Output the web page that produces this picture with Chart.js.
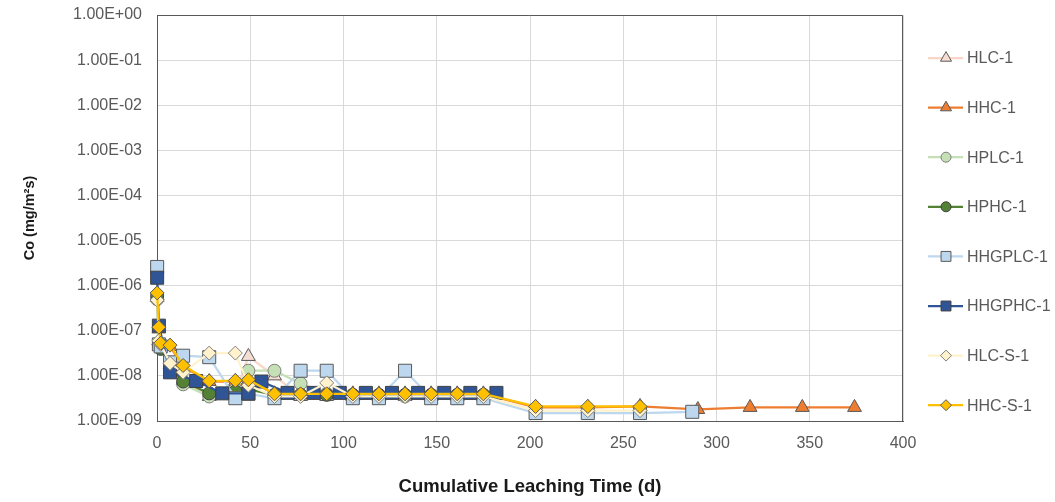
<!DOCTYPE html>
<html>
<head>
<meta charset="utf-8">
<title>Co leaching</title>
<script src="https://cdn.jsdelivr.net/npm/chart.js@4"></script>
<style>
  body { margin: 0; background: #fff; }
  #wrap { width: 1055px; height: 502px; position: relative; }
</style>
</head>
<body>
<div id="wrap"><canvas id="co-chart"></canvas></div>
<script>
// time points (d)
const tStd = [0.08, 1, 2, 7, 14, 28, 42, 49, 63, 77, 91, 105, 119, 133, 147, 161, 175];
const tStdLong = tStd.concat([203, 231, 259, 287]);
const tStdS = tStd.concat([203, 231, 259]);
const tHHC = tStd.concat([203, 231, 259, 290, 318, 346, 374]);
const tHHGPHC = [0.08, 1, 7, 21, 35, 49, 56, 70, 84, 98, 112, 126, 140, 154, 168, 182];

// Co release (mg/m2s)
const hlc1 = [5.5e-7, 6e-8, 4.5e-8, 1.8e-8, 8e-9, 3.5e-9, 4e-9, 2.7e-8, 1e-8, 3.5e-9, 3.5e-9, 3.5e-9, 3.5e-9, 3.5e-9, 3.5e-9, 3.5e-9, 3.5e-9];
const hhc1 = [6e-7, 1.1e-7, 5e-8, 4.5e-8, 1.6e-8, 7.5e-9, 7.5e-9, 8e-9, 4e-9, 4e-9, 4e-9, 4e-9, 4e-9, 4e-9, 4e-9, 4e-9, 4e-9, 2e-9, 2e-9, 2.1e-9, 1.8e-9, 2e-9, 2e-9, 2e-9];
const hplc1 = [5e-7, 5e-8, 4e-8, 1.8e-8, 6.5e-9, 3.5e-9, 5e-9, 1.3e-8, 1.3e-8, 6.8e-9, 4e-9, 3.5e-9, 3.5e-9, 3.5e-9, 3.5e-9, 3.5e-9, 3.5e-9];
const hphc1 = [6e-7, 5e-8, 4e-8, 1.5e-8, 7.5e-9, 4.1e-9, 4.5e-9, 5e-9, 3.8e-9, 3.8e-9, 3.8e-9, 3.8e-9, 3.8e-9, 3.8e-9, 3.8e-9, 3.8e-9, 3.8e-9];
const hhgplc1 = [2.6e-6, 5e-8, 4.5e-8, 2e-8, 2.8e-8, 2.6e-8, 3.2e-9, 4e-9, 3.2e-9, 1.3e-8, 1.3e-8, 3.2e-9, 3.2e-9, 1.3e-8, 3.2e-9, 3.2e-9, 3.2e-9, 1.5e-9, 1.5e-9, 1.5e-9, 1.6e-9];
const hhgphc1 = [1.5e-6, 1.3e-7, 1.2e-8, 7.7e-9, 4.1e-9, 4.1e-9, 7.5e-9, 4.2e-9, 4.2e-9, 4.2e-9, 4.2e-9, 4.2e-9, 4.2e-9, 4.2e-9, 4.2e-9, 4.2e-9];
const hlcs1 = [4.8e-7, 6e-8, 5e-8, 1.9e-8, 1.2e-8, 3.2e-8, 3.2e-8, 6.2e-9, 3.5e-9, 3.5e-9, 7e-9, 3.5e-9, 3.5e-9, 3.5e-9, 3.5e-9, 3.5e-9, 3.5e-9, 1.7e-9, 1.7e-9, 1.7e-9];
const hhcs1 = [6.9e-7, 1.2e-7, 5.3e-8, 4.8e-8, 1.7e-8, 7.7e-9, 7.9e-9, 8.2e-9, 4e-9, 4e-9, 4e-9, 4e-9, 4e-9, 4e-9, 4e-9, 4e-9, 4e-9, 2.1e-9, 2.1e-9, 2.1e-9];

const yTicks = [1e0, 1e-1, 1e-2, 1e-3, 1e-4, 1e-5, 1e-6, 1e-7, 1e-8, 1e-9];
const yTickLabels = ["1.00E+00", "1.00E-01", "1.00E-02", "1.00E-03", "1.00E-04", "1.00E-05", "1.00E-06", "1.00E-07", "1.00E-08", "1.00E-09"];

const pts = (xs, ys) => ys.map((y, i) => ({ x: xs[i], y: y }));

function series(label, xs, ys, line, fill, edge, shape, r) {
  return {
    label: label,
    data: pts(xs, ys),
    showLine: true,
    borderColor: line,
    borderWidth: 2.25,
    pointStyle: shape,
    pointRadius: r,
    pointBackgroundColor: fill,
    pointBorderColor: edge,
    pointBorderWidth: 1,
    clip: false,
  };
}

const datasets = [
  series("HLC-1", tStd, hlc1, "#f8d5c4", "#f6ddd3", "#595959", "triangle", 8),
  series("HHC-1", tHHC, hhc1, "#ed7d31", "#ed7d31", "#595959", "triangle", 8),
  series("HPLC-1", tStd, hplc1, "#c5e0b4", "#c5e0b4", "#7f7f7f", "circle", 6.5),
  series("HPHC-1", tStd, hphc1, "#548235", "#548235", "#404040", "circle", 6.5),
  series("HHGPLC-1", tStdLong, hhgplc1, "#bdd7ee", "#bdd7ee", "#595959", "rect", 9.2),
  series("HHGPHC-1", tHHGPHC, hhgphc1, "#2f5597", "#2f5597", "#404040", "rect", 9.2),
  series("HLC-S-1", tStdS, hlcs1, "#fff2cc", "#fff2cc", "#7f7f7f", "rectRot", 7),
  series("HHC-S-1", tStdS, hhcs1, "#ffc000", "#ffc000", "#595959", "rectRot", 7),
];
// later series sit on top, as in the original
datasets.forEach((ds, i) => { ds.order = datasets.length - i; });

const legendSize = { triangle: 6.4, circle: 5, rect: 7, rectRot: 5.5 };

const frame = {
  id: "frame",
  beforeDatasetsDraw(chart) {
    const a = chart.chartArea;
    const ctx = chart.ctx;
    ctx.save();
    ctx.strokeStyle = "#595959";
    ctx.lineWidth = 1;
    ctx.beginPath();
    ctx.moveTo(a.left, a.top + 0.5);
    ctx.lineTo(a.right - 0.5, a.top + 0.5);
    ctx.lineTo(a.right - 0.5, a.bottom);
    ctx.stroke();
    ctx.restore();
  },
};

const sideLegend = {
  id: "sideLegend",
  afterDraw(chart) {
    const ctx = chart.ctx;
    chart.data.datasets.forEach((ds, i) => {
      const y = 58 + i * 49.6;
      ctx.save();
      ctx.strokeStyle = ds.borderColor;
      ctx.lineWidth = ds.borderWidth;
      ctx.beginPath();
      ctx.moveTo(928, y);
      ctx.lineTo(963, y);
      ctx.stroke();
      ctx.fillStyle = ds.pointBackgroundColor;
      ctx.strokeStyle = ds.pointBorderColor;
      ctx.lineWidth = 1;
      Chart.helpers.drawPoint(ctx, {
        pointStyle: ds.pointStyle,
        radius: legendSize[ds.pointStyle],
        rotation: 0,
        borderWidth: 1,
      }, 946, y);
      ctx.fillStyle = "#595959";
      ctx.font = '16px "Liberation Sans", Arial, sans-serif';
      ctx.textBaseline = "middle";
      ctx.textAlign = "left";
      ctx.fillText(ds.label, 967, y + 1);
      ctx.restore();
    });
  },
};

Chart.defaults.font.family = '"Liberation Sans", Arial, sans-serif';

new Chart(document.getElementById("co-chart").getContext("2d"), {
  type: "scatter",
  data: { datasets: datasets },
  options: {
    responsive: true,
    maintainAspectRatio: false,
    animation: false,
    events: [],
    layout: { padding: { top: 15, right: 152, left: 0, bottom: 0 } },
    plugins: { legend: { display: false }, tooltip: { enabled: false } },
    scales: {
      x: {
        type: "linear",
        min: 0,
        max: 400,
        ticks: { stepSize: 50, color: "#595959", font: { size: 16 }, padding: 13 },
        grid: { color: "#d9d9d9", drawTicks: false },
        border: { color: "#595959", width: 1 },
        title: {
          display: true,
          text: "Cumulative Leaching Time (d)",
          color: "#1a1a1a",
          font: { size: 18.5, weight: "bold" },
          padding: { top: 0, bottom: 3.9 },
        },
        afterFit: (scale) => { scale.height = 81; },
      },
      y: {
        type: "logarithmic",
        min: 1e-9,
        max: 1,
        afterBuildTicks: (scale) => { scale.ticks = yTicks.map((v) => ({ value: v })); },
        ticks: {
          color: "#595959",
          font: { size: 16 },
          padding: 15,
          autoSkip: false,
          callback: (v) => yTickLabels[Math.round(-Math.log10(v))],
        },
        grid: { color: "#d9d9d9", drawTicks: false },
        border: { color: "#595959", width: 1 },
        title: {
          display: true,
          text: "Co (mg/m²s)",
          color: "#1a1a1a",
          font: { size: 14.5, weight: "bold" },
          padding: { top: 21.3, bottom: 0 },
        },
        afterFit: (scale) => {
          scale.width = 157;
          scale.paddingTop = 0;
          scale.paddingBottom = 0;
        },
      },
    },
  },
  plugins: [frame, sideLegend],
});
</script>
</body>
</html>
